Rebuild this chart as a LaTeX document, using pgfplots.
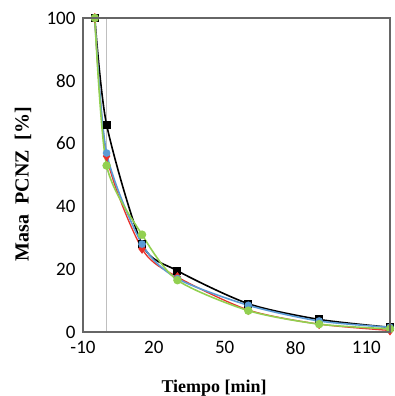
\documentclass[border=0pt]{standalone}
\usepackage{pgfplots}
\pgfplotsset{compat=1.18}
\usepackage{fontspec}
\setmainfont{Carlito}
\newfontfamily\labfont{Liberation Serif}
\definecolor{cblack}{HTML}{000000}
\definecolor{cred}{HTML}{E8312A}
\definecolor{cblue}{HTML}{5B9BD5}
\definecolor{cgreen}{HTML}{92D050}
\begin{document}
\begin{tikzpicture}
\useasboundingbox (-83pt,-64pt) rectangle (311pt,332pt);
\begin{axis}[
  name=ax,
  anchor=south west, at={(0pt,0pt)},
  scale only axis, width=307pt, height=314pt,
  xmin=-10, xmax=120, ymin=0, ymax=100,
  xtick={-10,20,50,80,110}, ytick={0,20,40,60,80,100},
  major tick length=0pt,
  axis line style={draw=none},
  tick label style={font=\fontsize{19}{19}\selectfont},
  /pgf/number format/assume math mode=true,
  xticklabel style={yshift=-6pt},
  yticklabel style={xshift=-4pt},
  clip=false,
]
\draw[black!25, line width=1pt] (axis cs:0,0) -- (axis cs:0,100);
\addplot[cblack, line width=1.6pt, smooth, tension=0.45, mark=square*, mark size=3.2pt, mark options={solid,fill=cblack}] coordinates {
(-5,100) (0,66) (15,28) (30,19.5) (60,9) (90,4) (120,1.5)};
\addplot[cred, line width=1.3pt, smooth, tension=0.45, mark=diamond*, mark size=4pt, mark options={solid,fill=cred}] coordinates {
(-5,100) (0,56) (15,26.5) (30,17.5) (60,7) (90,2.5) (120,0.5)};
\addplot[cblue, line width=1.6pt, smooth, tension=0.45, mark=*, mark size=3pt, mark options={solid,fill=cblue}] coordinates {
(-5,100) (0,57) (15,28) (30,17) (60,8.5) (90,3.5) (120,1.5)};
\addplot[cgreen, line width=1.6pt, smooth, tension=0.45, mark=*, mark size=3.4pt, mark options={solid,fill=cgreen}] coordinates {
(-5,100) (0,53) (15,31) (30,16.5) (60,6.8) (90,2.5) (120,1)};
\node[anchor=base, font=\labfont\bfseries\fontsize{18}{18}\selectfont] at (axis description cs:0.427,-0.194) {Tiempo [min]};
\node[rotate=90, font=\labfont\bfseries\fontsize{20}{20}\selectfont] at (axis description cs:-0.195,0.471) {Masa\ \ PCNZ\ \ [\%]};
\end{axis}
\draw[black!60, line width=1.2pt] (0pt,0pt) rectangle (307pt,314pt);
\end{tikzpicture}
\end{document}
